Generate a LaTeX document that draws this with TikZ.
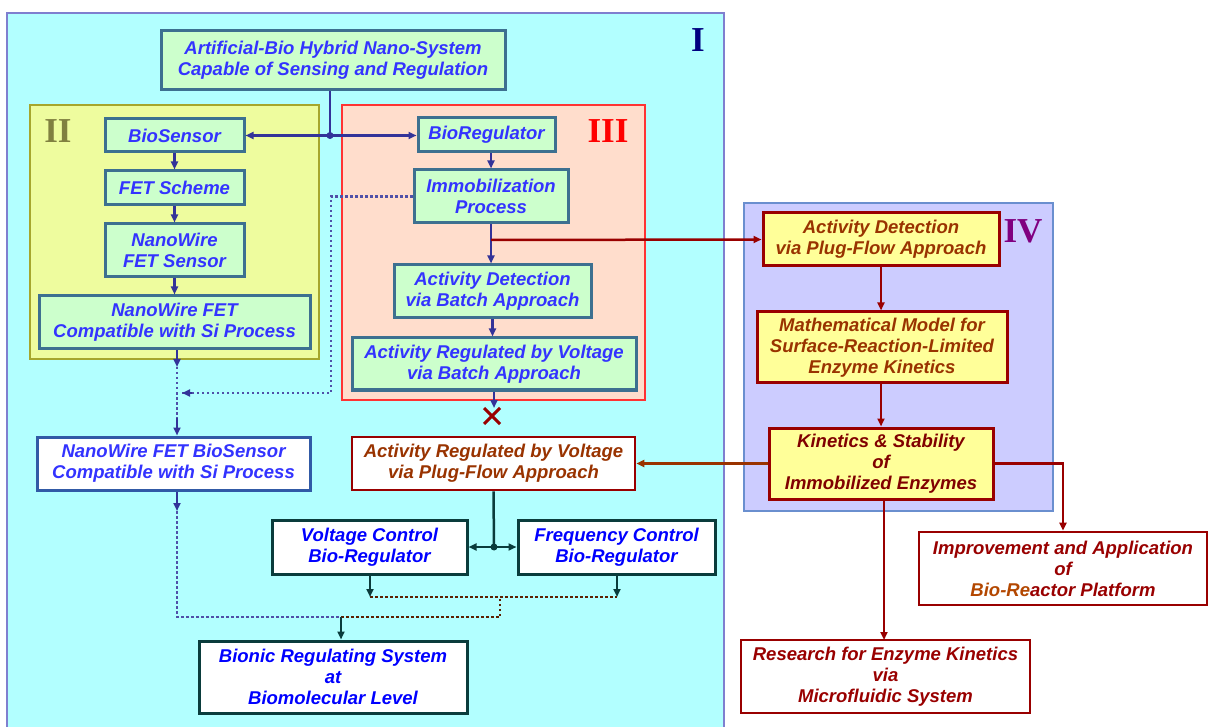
\documentclass[tikz,border=0pt]{standalone}
\usepackage{fontspec}
\setmainfont{Liberation Serif}
\setsansfont{Liberation Sans}
\usetikzlibrary{arrows.meta,shapes.misc}
\definecolor{cyanbg}{HTML}{B2FFFF}
\definecolor{IIbg}{HTML}{EEFC9E}
\definecolor{IIIbg}{HTML}{FFDDCC}
\definecolor{IVbg}{HTML}{CCCCFF}
\definecolor{gfill}{HTML}{CCFFCC}
\definecolor{yfill}{HTML}{FFFF99}
\definecolor{steel}{HTML}{3D7090}
\definecolor{tblue}{HTML}{3333FF}
\definecolor{pblue}{HTML}{0000FF}
\definecolor{conn}{HTML}{333399}
\definecolor{dotc}{HTML}{5050A8}
\definecolor{dred}{HTML}{990000}
\definecolor{mred}{HTML}{800000}
\definecolor{brown}{HTML}{993300}
\definecolor{obrown}{HTML}{B34700}
\definecolor{teal}{HTML}{0A3C3C}
\definecolor{navy}{HTML}{000080}
\definecolor{olive}{HTML}{808040}
\definecolor{purp}{HTML}{800080}
\definecolor{regI}{HTML}{7F7FCF}
\definecolor{regIV}{HTML}{6A8FCF}
\tikzset{
  basebox/.style={align=center, inner sep=0pt, font=\sffamily\bfseries\itshape\fontsize{18.5}{21}\selectfont},
  gbox/.style={basebox, draw=steel, line width=3pt, fill=gfill, text=tblue},
  ybox/.style={basebox, draw=dred, line width=3pt, fill=yfill, text=brown},
  wbbox/.style={basebox, draw=steel!80!blue, line width=3pt, fill=white, text=tblue},
  wrbox/.style={basebox, draw=dred, line width=2.6pt, fill=white, text=dred},
  wtbox/.style={basebox, draw=teal, line width=3pt, fill=white, text=pblue},
  tip/.style={-{Triangle[length=8pt,width=7pt]}},
  bline/.style={conn, line width=2.5pt},
  dots/.style={line width=2.5pt, dash pattern=on 2.5pt off 2.5pt},
  dline/.style={dotc, dots},
  bdline/.style={brown!60!black, dots},
  rline/.style={dred, line width=2.5pt},
  tline/.style={teal, line width=2.5pt},
  roman/.style={font=\rmfamily\bfseries\fontsize{35}{35}\selectfont, inner sep=0pt}
}
\begin{document}
\begin{tikzpicture}[x=1pt,y=-1pt]
\useasboundingbox (0,0) rectangle (1208,727);
\fill[white] (0,0) rectangle (1208,727);
% regions
\draw[fill=cyanbg, draw=regI, line width=1.2pt] (7,13) rectangle (724,730);
\node[roman, text=navy] (rI) at (698,40) {I};
\draw[fill=IIbg, draw=olive!70!yellow, line width=1.2pt] (30,105) rectangle (319,359);
\node[roman, text=olive] (rII) at (58,131) {II};
\draw[fill=IIIbg, draw=red!80, line width=1.2pt] (342,105) rectangle (645,400);
\node[roman, text=red] (rIII) at (608,131) {III};
\draw[fill=IVbg, draw=regIV, line width=1.2pt] (744,203) rectangle (1053,511);
\node[roman, text=purp] (rIV) at (1023,231) {IV};

% nodes
\node[gbox, minimum width=344, minimum height=59] (top) at (333,60.5) {Artificial-Bio Hybrid Nano-System\\Capable of Sensing and Regulation};
\node[gbox, minimum width=139, minimum height=33] (bios) at (174.5,135.5) {BioSensor};
\node[gbox, minimum width=139, minimum height=34] (fet) at (174.5,188) {FET Scheme};
\node[gbox, minimum width=139, minimum height=53] (nwfs) at (174.5,250.5) {NanoWire\\FET Sensor};
\node[gbox, minimum width=271, minimum height=53] (nwc) at (174.5,322.5) {NanoWire FET\\Compatible with Si Process};
\node[gbox, minimum width=137, minimum height=34] (bior) at (486.5,135) {BioRegulator};
\node[gbox, minimum width=154, minimum height=53] (immob) at (491,196.5) {Immobilization\\Process};
\node[gbox, minimum width=197, minimum height=53] (adb) at (492.5,291.5) {Activity Detection\\via Batch Approach};
\node[gbox, minimum width=284, minimum height=52] (arb) at (494,364) {Activity Regulated by Voltage\\via Batch Approach};
\node[cross out, draw=dred, line width=3pt, minimum size=13pt, inner sep=0pt] (xx) at (492,416) {};

\node[wbbox, minimum width=273, minimum height=53] (nwbs) at (173.5,463.5) {NanoWire FET BioSensor\\Compatible with Si Process};
\node[wrbox, text=brown, minimum width=283, minimum height=53] (pfa) at (493.5,463.5) {Activity Regulated by Voltage\\via Plug-Flow Approach};
\node[wtbox, minimum width=195, minimum height=54] (vcb) at (369.5,547) {Voltage Control\\Bio-Regulator};
\node[wtbox, minimum width=197, minimum height=54] (fcb) at (616.5,547) {Frequency Control\\Bio-Regulator};
\node[wtbox, minimum width=268, minimum height=72] (bionic) at (333,677) {Bionic Regulating System\\at\\Biomolecular Level};

\node[ybox, minimum width=236, minimum height=53] (adp) at (881,239.5) {Activity Detection\\via Plug-Flow Approach};
\node[ybox, minimum width=250, minimum height=71] (mm) at (882,347.5) {Mathematical Model for\\Surface-Reaction-Limited\\Enzyme Kinetics};
\node[ybox, text=mred, minimum width=224, minimum height=71] (kin) at (881,463.5) {Kinetics \& Stability\\of\\Immobilized Enzymes};
\node[wrbox, minimum width=288, minimum height=73] (imp) at (1063,568.5) {Improvement and Application\\of\\{\color{obrown}Bio-Re}actor Platform};
\node[wrbox, minimum width=289, minimum height=73] (res) at (885.5,676.5) {Research for Enzyme Kinetics\\via\\Microfluidic System};

% top split
\coordinate (j1) at (330,135.5);
\draw[bline] (j1 |- top.south) -- (j1);
\draw[bline, tip] (j1) -- (bios.east);
\draw[bline, tip] (j1) -- (j1 -| bior.west);
\fill[conn] (j1) circle (3.5pt);

% II chain
\draw[bline, tip] (bios.south) -- (fet.north);
\draw[bline, tip] (fet.south) -- (nwfs.north);
\draw[bline, tip] (nwfs.south) -- (nwc.north);
\coordinate (c1) at (177,367);
\coordinate (c2) at (177,418);
\draw[bline, tip] (nwc.south -| c1) -- (c1);
\draw[dline] (c1) -- (c2);
\draw[bline, tip] (c2) -- (c2 |- nwbs.north);

% dotted from immobilization
\coordinate (d1) at (331,196.5);
\coordinate (d2) at (331,393);
\coordinate (d3) at (182,393);
\draw[dline] (immob.west) -- (d1) -- (d2) -- (d3);
\draw[bline, tip] (192,393) -- (d3);

% III chain
\draw[bline, tip] (bior.south -| immob) -- (immob.north);
\draw[bline, tip] (immob.south) -- (adb.north -| immob.south);
\draw[bline, tip] (adb.south) -- (adb.south |- arb.north);
\draw[bline, tip] (arb.south) -- (xx.north -| arb.south);

% red branch to IV
\coordinate (r1) at (491,240);
\draw[rline, tip] (r1) -- (adp.west);

% IV chain
\draw[rline, tip] (adp.south) -- (adp.south |- mm.north);
\draw[rline, tip] (mm.south -| kin.north) -- (kin.north);
\draw[brown, line width=2.5pt, tip] (kin.west) -- (pfa.east);
\draw[rline, tip] (kin.east) -| (imp.north);
\draw[rline, tip] (884,499) -- (884,640);

% plug-flow split
\coordinate (j2) at (494,547);
\draw[tline] (pfa.south) -- (j2);
\draw[tline, tip] (j2) -- (vcb.east);
\draw[tline, tip] (j2) -- (fcb.west);
\fill[teal] (j2) circle (3.5pt);

% bottom network
\coordinate (b1) at (177,511);
\coordinate (b2) at (177,617);
\coordinate (b3) at (500,617);
\coordinate (b4) at (500,597);
\coordinate (v1) at (370,597);
\coordinate (f1) at (617,597);
\coordinate (m1) at (341,617);
\draw[bline, tip] (b1 |- nwbs.south) -- (b1);
\draw[dline] (b1) -- (b2) -- (m1);
\draw[bdline] (m1) -- (b3) -- (b4);
\draw[bdline] (v1) -- (f1);
\draw[tline, tip] (vcb.south -| v1) -- (v1);
\draw[tline, tip] (fcb.south -| f1) -- (f1);
\draw[tline, tip] (m1) -- (m1 |- bionic.north);
\end{tikzpicture}
\end{document}
